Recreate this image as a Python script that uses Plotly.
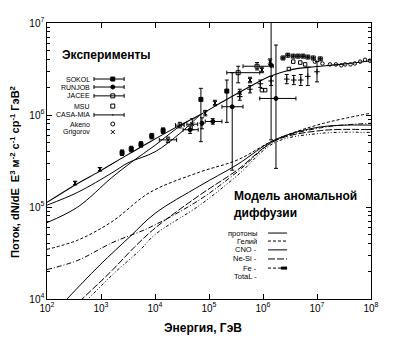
import numpy as np
import plotly.graph_objects as go

# ---------------- data (log10 E [GeV], log10 flux) ----------------
# curves through the experimental points
fitA_lgE = [2.00, 2.52, 2.98, 3.44, 3.91, 4.37, 4.83, 5.30, 5.76, 6.13, 6.50, 6.87, 7.43, 8.00]
fitA_lgF = [5.05, 5.24, 5.39, 5.55, 5.71, 5.86, 6.00, 6.16, 6.31, 6.42, 6.49, 6.52, 6.55, 6.59]
fitB_lgE = [2.00, 2.57, 3.20, 3.50, 4.00, 4.46, 4.83]
fitB_lgF = [5.02, 5.16, 5.37, 5.48, 5.60, 5.80, 6.00]
fitC_lgE = [2.00, 2.57, 3.20, 3.57, 4.00, 4.37, 4.60]
fitC_lgF = [4.83, 5.00, 5.32, 5.49, 5.67, 5.84, 5.93]

# anomalous-diffusion model curves
he_lgE = [2.00, 2.57, 3.20, 3.91, 4.83, 5.52, 6.22, 7.06, 8.00]
he_lgF = [4.54, 4.64, 4.84, 5.16, 5.38, 5.51, 5.73, 5.90, 6.02]
nesi_lgE = [2.00, 2.57, 3.20, 3.91, 4.83, 5.52, 6.22, 7.06, 8.00]
nesi_lgF = [4.32, 4.42, 4.61, 4.78, 5.08, 5.38, 5.72, 5.86, 5.91]
prot_lgE = [2.00, 2.37, 2.98, 3.54, 4.00, 4.83, 5.52, 6.22, 7.06, 8.00]
prot_lgF = [3.77, 4.00, 4.37, 4.68, 4.93, 5.23, 5.46, 5.73, 5.87, 5.89]
cno_lgE = [2.00, 2.65, 3.17, 3.63, 4.00, 4.83, 5.52, 6.22, 7.06, 8.00]
cno_lgF = [3.63, 4.00, 4.29, 4.57, 4.77, 5.13, 5.40, 5.72, 5.83, 5.84]
fe_lgE = [2.00, 2.76, 3.26, 3.72, 4.00, 4.83, 5.52, 6.22, 7.06, 8.00]
fe_lgF = [3.55, 4.00, 4.29, 4.53, 4.70, 5.02, 5.34, 5.70, 5.80, 5.81]

# experiments: centre, and low/high bounds (log10)
sokol_lgE = [3.39, 3.56, 3.74, 3.94, 4.15, 4.85, 5.33]
sokol_lgF = [5.59, 5.63, 5.68, 5.77, 5.83, 6.17, 6.26]
sokol_lgF_lo = [5.56, 5.60, 5.65, 5.74, 5.80, 5.71, 5.92]
sokol_lgF_hi = [5.62, 5.66, 5.71, 5.80, 5.86, 6.29, 6.38]

runjob_lgE = [4.65, 4.87, 5.07, 5.43, 6.24, 6.15]
runjob_lgF = [5.84, 5.91, 5.93, 6.09, 6.18, 6.54]
runjob_lgE_lo = [4.52, 4.87, 4.93, 5.24, 5.94, 6.15]
runjob_lgE_hi = [4.80, 4.87, 5.24, 5.63, 6.61, 6.15]
runjob_lgF_lo = [5.80, 5.85, 5.90, 5.40, 5.42, 5.73]
runjob_lgF_hi = [5.88, 5.97, 5.96, 6.46, 6.76, 7.10]

jacee_lgE = [5.54, 5.89, 6.37, 6.46, 6.56, 6.65, 6.74, 6.83, 6.93, 7.06]
jacee_lgF = [6.46, 6.53, 6.62, 6.65, 6.64, 6.64, 6.64, 6.63, 6.62, 6.61]
jacee_lgE_lo = [5.33, 5.63, 6.37, 6.46, 6.56, 6.65, 6.74, 6.83, 6.93, 7.06]
jacee_lgE_hi = [5.94, 6.19, 6.37, 6.46, 6.56, 6.65, 6.74, 6.83, 6.93, 7.06]
jacee_lgF_lo = [6.35, 6.49, 6.62, 6.65, 6.64, 6.64, 6.64, 6.63, 6.62, 6.61]
jacee_lgF_hi = [6.53, 6.57, 6.62, 6.65, 6.64, 6.64, 6.64, 6.63, 6.62, 6.61]

msu_lgE = [5.98, 6.04, 6.48, 6.56, 6.69, 6.78]
msu_lgF = [6.27, 6.27, 6.50, 6.58, 6.57, 6.55]

akeno_lgE = [6.96, 7.10, 7.24, 7.35, 7.45, 7.52, 7.62, 7.70, 7.80, 7.89, 7.98]
akeno_lgF = [6.58, 6.56, 6.55, 6.55, 6.54, 6.55, 6.55, 6.56, 6.58, 6.60, 6.59]

casa_lgE = [5.57, 5.76, 5.95, 6.15, 6.44, 6.57, 6.70, 6.83, 7.00]
casa_lgF = [6.20, 6.28, 6.34, 6.37, 6.39, 6.38, 6.38, 6.42, 6.47]
casa_dlgF = [0.04, 0.04, 0.04, 0.05, 0.05, 0.05, 0.06, 0.10, 0.11]

grig_lgE = [2.52, 2.98, 4.24, 4.46, 4.69, 4.93, 5.11, 5.57, 5.76, 5.98, 6.13]
grig_lgF = [5.26, 5.41, 5.73, 5.89, 5.90, 6.02, 6.13, 6.24, 6.38, 6.49, 6.58]
grig_dlgE = [0.0, 0.0, 0.16, 0.08, 0.10, 0.0, 0.0, 0.0, 0.0, 0.0, 0.0]
grig_dlgF = [0.02, 0.02, 0.03, 0.03, 0.06, 0.03, 0.03, 0.04, 0.03, 0.03, 0.03]

exp_labels = ["SOKOL", "RUNJOB", "JACEE", "MSU", "CASA-MIA", "Akeno", "Grigorov"]
model_labels = ["протоны", "Гелий", "CNO -", "Ne-Si -", "Fe -", "TotaL -"]

# ---------------- helpers ----------------
P = lambda a: 10 ** np.asarray(a, dtype=float)


def bounds(c, lo, hi):
    v = P(c)
    return P(hi) - v, v - P(lo)


FONT = "Liberation Sans, Arial, sans-serif"
fig = go.Figure()


def line(lgE, lgF, dash="solid", w=1.0):
    fig.add_trace(go.Scatter(x=P(lgE), y=P(lgF), mode="lines", line_shape="spline",
                             line=dict(color="black", width=w, dash=dash),
                             showlegend=False, hoverinfo="skip"))


line(fitA_lgE, fitA_lgF, w=1.1)
line(fitB_lgE, fitB_lgF)
line(fitC_lgE, fitC_lgF)
line(prot_lgE, prot_lgF)
line(he_lgE, he_lgF, dash="3px,2px")
line(cno_lgE, cno_lgF, dash="7px,2px")
line(nesi_lgE, nesi_lgF, dash="5px,2px,1px,2px")
line(fe_lgE, fe_lgF, dash="3px,2px,1px,2px,1px,2px")


def points(lgE, lgF, symbol, size, ex=None, ey=None, lw=1):
    kw = {}
    if ex is not None:
        kw["error_x"] = dict(type="data", symmetric=False, array=ex[0], arrayminus=ex[1],
                             color="black", thickness=1, width=2)
    if ey is not None:
        kw["error_y"] = dict(type="data", symmetric=False, array=ey[0], arrayminus=ey[1],
                             color="black", thickness=1, width=2)
    fig.add_trace(go.Scatter(x=P(lgE), y=P(lgF), mode="markers",
                             marker=dict(symbol=symbol, size=size, color="black",
                                         line=dict(color="black", width=lw)),
                             showlegend=False, hoverinfo="skip", **kw))


points(sokol_lgE, sokol_lgF, "square", 4, ey=bounds(sokol_lgF, sokol_lgF_lo, sokol_lgF_hi))
points(runjob_lgE, runjob_lgF, "circle", 4,
       ex=bounds(runjob_lgE, runjob_lgE_lo, runjob_lgE_hi),
       ey=bounds(runjob_lgF, runjob_lgF_lo, runjob_lgF_hi))
points(jacee_lgE, jacee_lgF, "square-open", 4,
       ex=bounds(jacee_lgE, jacee_lgE_lo, jacee_lgE_hi),
       ey=bounds(jacee_lgF, jacee_lgF_lo, jacee_lgF_hi))
points(msu_lgE, msu_lgF, "square-open", 3.5)
points(akeno_lgE, akeno_lgF, "circle-open", 3.5)
casa_lo = np.array(casa_lgF) - np.array(casa_dlgF)
casa_hi = np.array(casa_lgF) + np.array(casa_dlgF)
points(casa_lgE, casa_lgF, "cross-thin", 4, ey=bounds(casa_lgF, casa_lo, casa_hi))
g_e = np.array(grig_dlgE)
g_f = np.array(grig_dlgF)
points(grig_lgE, grig_lgF, "x-thin", 4,
       ex=bounds(grig_lgE, np.array(grig_lgE) - g_e, np.array(grig_lgE) + g_e),
       ey=bounds(grig_lgF, np.array(grig_lgF) - g_f, np.array(grig_lgF) + g_f))

# ---------------- legend samples on an overlay [0,1] axis ----------------
exp_rows = [0.797, 0.768, 0.736, 0.699, 0.667, 0.634, 0.605]
exp_sym = ["square", "circle", "square-open", "square-open", None, "circle-open", "x-thin"]
exp_bar = [True, True, True, False, True, False, False]
mx = 0.203
for yy, sym, bar in zip(exp_rows, exp_sym, exp_bar):
    kw = {}
    if bar:
        kw["error_x"] = dict(type="data", symmetric=False, array=[0.035], arrayminus=[0.058],
                             color="black", thickness=1, width=2)
    fig.add_trace(go.Scatter(x=[mx], y=[yy], xaxis="x2", yaxis="y2", mode="markers",
                             marker=dict(symbol=sym if sym else "line-ew", size=4 if sym else 1,
                                         color="black", line=dict(color="black", width=1)),
                             showlegend=False, hoverinfo="skip", **kw))

model_rows = [0.239, 0.210, 0.178, 0.145, 0.112, 0.080]
model_dash = ["solid", "3px,2px", "solid", "7px,2px", "3px,2px", None]
for yy, d in zip(model_rows, model_dash):
    if d is None:
        continue
    fig.add_trace(go.Scatter(x=[0.682, 0.741], y=[yy, yy], xaxis="x2", yaxis="y2", mode="lines",
                             line=dict(color="black", width=1, dash=d),
                             showlegend=False, hoverinfo="skip"))
fig.add_trace(go.Scatter(x=[0.722, 0.741], y=[model_rows[4]] * 2, xaxis="x2", yaxis="y2",
                         mode="lines", line=dict(color="black", width=3),
                         showlegend=False, hoverinfo="skip"))

ann = []
for yy, t in zip(exp_rows, exp_labels):
    ann.append(dict(x=0.139, y=yy, xref="paper", yref="paper", text=t, showarrow=False,
                    xanchor="right", yanchor="middle", font=dict(size=7, family=FONT)))
for yy, t in zip(model_rows, model_labels):
    ann.append(dict(x=0.654, y=yy, xref="paper", yref="paper", text=t, showarrow=False,
                    xanchor="right", yanchor="middle", font=dict(size=7.5, family=FONT)))
ann.append(dict(x=0.040, y=0.884, xref="paper", yref="paper", text="<b>Эксперименты</b>",
                showarrow=False, xanchor="left", yanchor="middle", font=dict(size=12, family=FONT)))
ann.append(dict(x=0.571, y=0.373, xref="paper", yref="paper", text="<b>Модель аномальной</b>",
                showarrow=False, xanchor="left", yanchor="middle", font=dict(size=12, family=FONT)))
ann.append(dict(x=0.571, y=0.312, xref="paper", yref="paper", text="<b>диффузии</b>",
                showarrow=False, xanchor="left", yanchor="middle", font=dict(size=12, family=FONT)))
ann.append(dict(x=0.481, y=-0.105, xref="paper", yref="paper", text="<b>Энергия, ГэВ</b>",
                showarrow=False, xanchor="center", yanchor="middle", font=dict(size=12, family=FONT)))
ann.append(dict(x=-0.099, y=0.46, xref="paper", yref="paper", textangle=-90,
                text="<b>Поток, dN/dE  E<sup>3</sup> м<sup>-2</sup> с<sup>-1</sup> ср<sup>-1</sup> ГэВ<sup>2</sup></b>",
                showarrow=False, xanchor="center", yanchor="middle", font=dict(size=11, family=FONT)))

axis_common = dict(type="log", showgrid=False, zeroline=False, showline=True, linecolor="black",
                   linewidth=1, ticks="inside", ticklen=5, tickcolor="black", mirror="allticks",
                   exponentformat="power", dtick=1,
                   tickfont=dict(size=8, family=FONT, color="black"))

fig.update_layout(
    width=396, height=354,
    margin=dict(l=47, r=25, t=23, b=55),
    paper_bgcolor="white", plot_bgcolor="white",
    font=dict(family=FONT, color="black"),
    xaxis=dict(range=[2, 8], **axis_common),
    yaxis=dict(range=[4, 7], minor=dict(ticks="inside", ticklen=3, tickcolor="black"), **axis_common),
    xaxis2=dict(overlaying="x", range=[0, 1], visible=False),
    yaxis2=dict(overlaying="y", range=[0, 1], visible=False),
    annotations=ann,
    showlegend=False,
)

fig.write_html("out.html")
